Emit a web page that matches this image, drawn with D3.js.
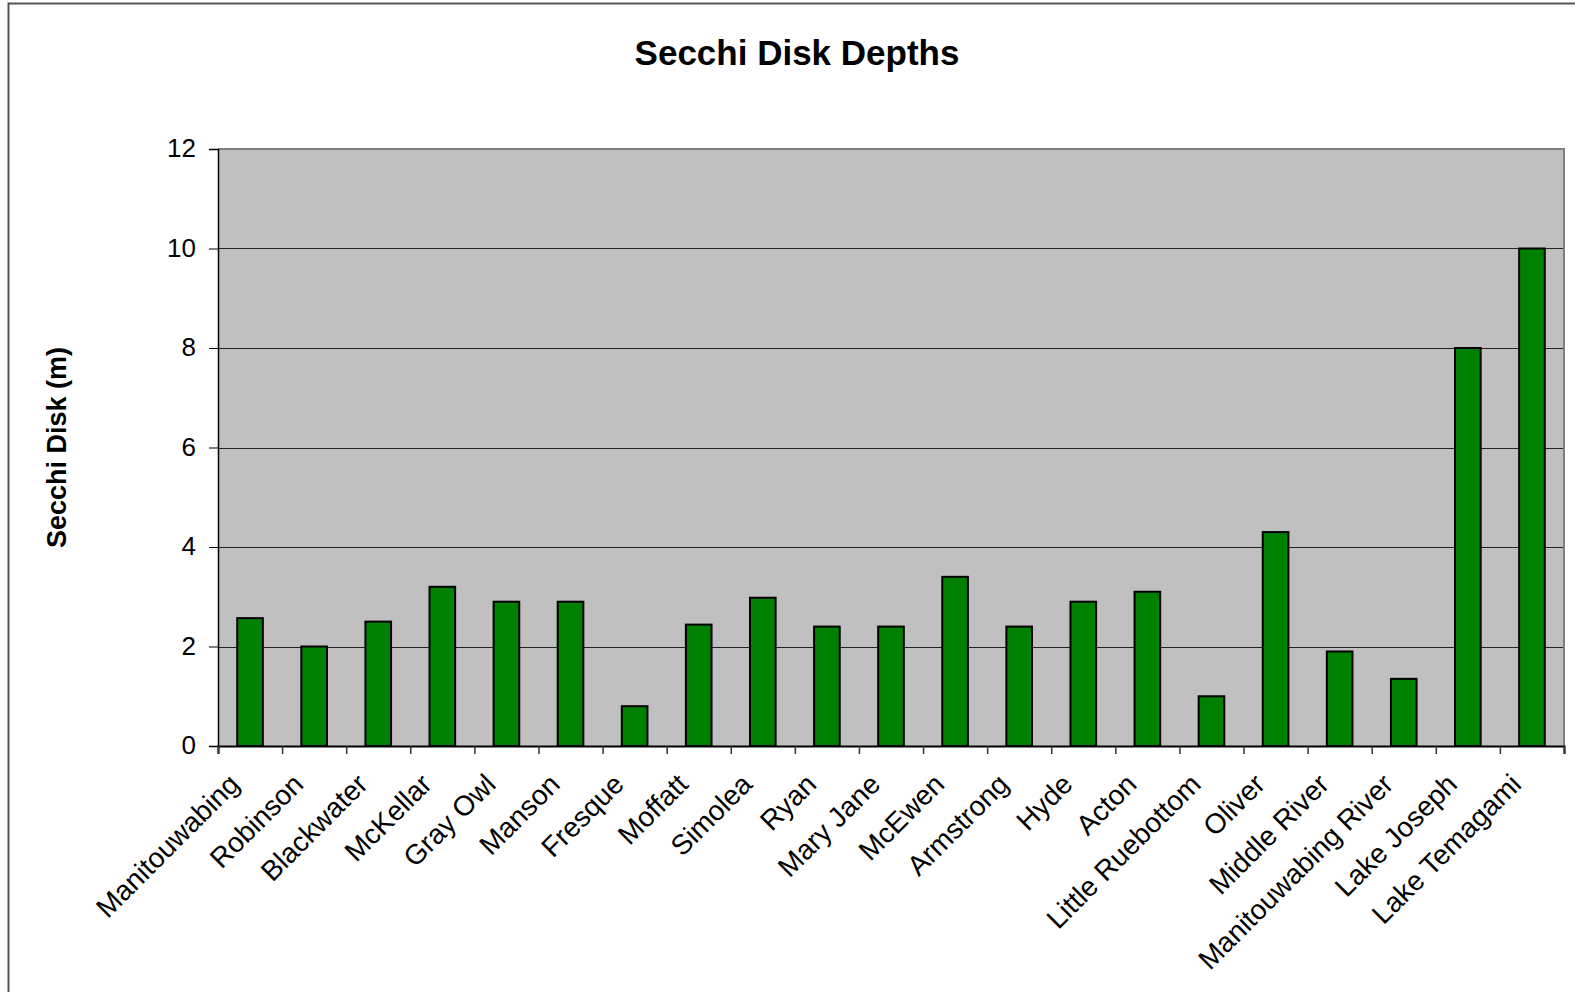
<!DOCTYPE html>
<html>
<head>
<meta charset="utf-8">
<script src="https://cdn.jsdelivr.net/npm/d3@7"></script>
<style>
  body { margin: 0; background: #fff; }
  svg { display: block; font-family: "Liberation Sans", Arial, sans-serif; }
</style>
</head>
<body>
<div id="chart"></div>
<script>
// lakes and their secchi disk depths (m)
var lakes = ["Manitouwabing", "Robinson", "Blackwater", "McKellar", "Gray Owl", "Manson",
    "Fresque", "Moffatt", "Simolea", "Ryan", "Mary Jane", "McEwen", "Armstrong", "Hyde",
    "Acton", "Little Ruebottom", "Oliver", "Middle River", "Manitouwabing River",
    "Lake Joseph", "Lake Temagami"];
var depths = [2.57, 2.0, 2.5, 3.2, 2.9, 2.9, 0.8, 2.44, 2.98, 2.4, 2.4, 3.4, 2.4, 2.9,
    3.1, 1.0, 4.3, 1.9, 1.35, 8.0, 10.0];
var yTicks = [0, 2, 4, 6, 8, 10, 12];

var outerWidth = 1575,
    outerHeight = 992;
var margin = { top: 149, right: 11, bottom: 246, left: 218 },
    width = outerWidth - margin.left - margin.right,
    height = outerHeight - margin.top - margin.bottom;

var data = lakes.map(function (d, i) { return { name: d, value: depths[i] }; });

var x = d3.scaleBand()
    .domain(lakes)
    .range([0, width])
    .paddingInner(0.6)
    .paddingOuter(0.3);

// category boundaries for the x tick marks
var xEdge = d3.scaleLinear()
    .domain([0, lakes.length])
    .range([0, width]);

var y = d3.scaleLinear()
    .domain([0, 12])
    .range([height, 0]);

var svg = d3.select("#chart")
    .append("svg")
    .attr("width", outerWidth)
    .attr("height", outerHeight);

// chart area frame
svg.append("rect")
    .attr("x", 8.5)
    .attr("y", 3.5)
    .attr("width", outerWidth + 20)
    .attr("height", outerHeight + 20)
    .attr("fill", "none")
    .attr("stroke", "#555")
    .attr("stroke-width", 2);

svg.append("text")
    .attr("x", 797)
    .attr("y", 65)
    .attr("text-anchor", "middle")
    .style("font-size", "35px")
    .style("font-weight", "bold")
    .text("Secchi Disk Depths");

svg.append("text")
    .attr("transform", "translate(66," + (margin.top + height / 2) + ") rotate(-90)")
    .attr("text-anchor", "middle")
    .style("font-size", "27px")
    .style("font-weight", "bold")
    .text("Secchi Disk (m)");

var g = svg.append("g")
    .attr("transform", "translate(" + margin.left + "," + margin.top + ")");

g.append("rect")
    .attr("width", width)
    .attr("height", height)
    .attr("fill", "#c0c0c0");

// grid lines
g.selectAll(".grid")
    .data(yTicks.filter(function (d) { return d > 0 && d < 12; }))
    .enter().append("line")
    .attr("class", "grid")
    .attr("x1", 0)
    .attr("x2", width)
    .attr("y1", function (d) { return Math.round(y(d)) + 0.5; })
    .attr("y2", function (d) { return Math.round(y(d)) + 0.5; })
    .attr("stroke", "#222")
    .attr("stroke-width", 1.2);

// top and right plot border
g.append("path")
    .attr("d", "M0,0H" + width + "V" + height)
    .attr("fill", "none")
    .attr("stroke", "#808080")
    .attr("stroke-width", 2);

g.selectAll(".bar")
    .data(data)
    .enter().append("rect")
    .attr("class", "bar")
    .attr("x", function (d) { return x(d.name); })
    .attr("y", function (d) { return y(d.value); })
    .attr("width", x.bandwidth())
    .attr("height", function (d) { return height - y(d.value); })
    .attr("fill", "#008000")
    .attr("stroke", "#000")
    .attr("stroke-width", 2);

var yAxis = g.append("g")
    .call(d3.axisLeft(y).tickValues(yTicks).tickSize(9).tickPadding(13));
yAxis.select(".domain").attr("stroke", "#000").attr("stroke-width", 1.5);
yAxis.selectAll(".tick line").attr("stroke", "#000");
yAxis.selectAll(".tick text")
    .attr("fill", "#000")
    .style("font-size", "26px")
    .attr("dy", "0.3em")
    .style("font-family", "\"Liberation Sans\", Arial, sans-serif");

var xAxis = g.append("g")
    .attr("transform", "translate(0," + height + ")")
    .call(d3.axisBottom(xEdge).tickValues(d3.range(lakes.length + 1)).tickSize(8).tickFormat(""));
xAxis.select(".domain").attr("stroke", "#000").attr("stroke-width", 2);
xAxis.selectAll(".tick line").attr("stroke", "#333").attr("stroke-width", 1.5);

// rotated category labels
g.selectAll(".cat")
    .data(lakes)
    .enter().append("text")
    .attr("class", "cat")
    .attr("transform", function (d) {
        return "translate(" + (x(d) + x.bandwidth() / 2 - 9) + "," + (height + 40) + ") rotate(-45)";
    })
    .attr("text-anchor", "end")
    .style("font-size", "28px")
    .text(function (d) { return d; });
</script>
</body>
</html>
